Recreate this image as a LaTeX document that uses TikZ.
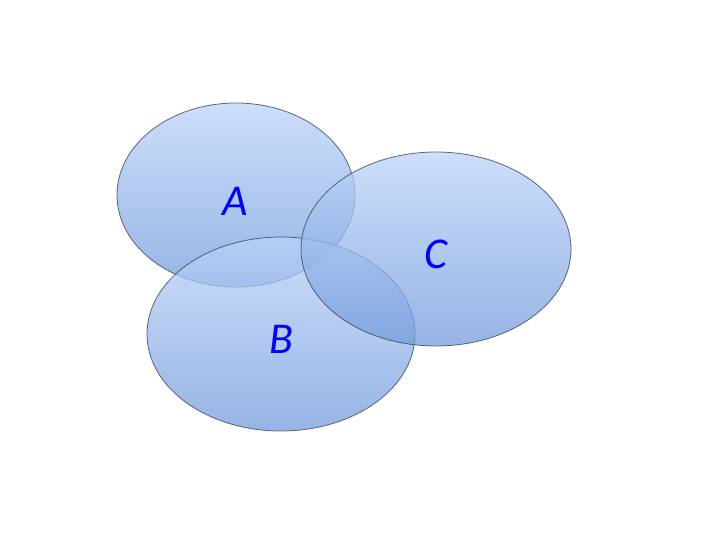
\documentclass[tikz,border=0pt]{standalone}
\usepackage{fontspec}
\setmainfont{Carlito}
\definecolor{topc}{RGB}{187,211,248}
\definecolor{botc}{RGB}{115,155,219}
\definecolor{edgec}{RGB}{60,70,90}
\definecolor{lblc}{RGB}{0,0,255}
\begin{document}
\begin{tikzpicture}[x=0.75pt,y=-0.75pt,
  setell/.style={shade, top color=topc, bottom color=botc, fill opacity=0.75, draw=edgec, draw opacity=0.8, line width=0.6pt},
  lbl/.style={text=lblc, font=\fontsize{33}{40}\selectfont\itshape, inner sep=0pt}]
\useasboundingbox (0,0) rectangle (720,540);
\path[setell] (236,195) ellipse [x radius=119, y radius=92];
\path[setell] (281,334) ellipse [x radius=134, y radius=97];
\path[setell] (436,249) ellipse [x radius=135, y radius=97];
\node[lbl] (a) at (235,201) {A};
\node[lbl] (b) at (281,339) {B};
\node[lbl] (c) at (436,254) {C};
\end{tikzpicture}
\end{document}
